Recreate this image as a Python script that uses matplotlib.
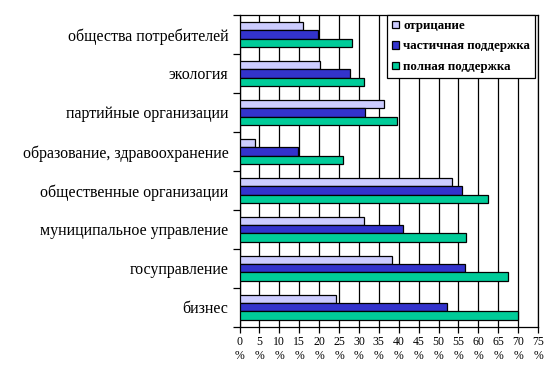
import numpy as np
import matplotlib
matplotlib.use("Agg")
import matplotlib.pyplot as plt

plt.rcParams['font.family'] = ['Liberation Serif', 'DejaVu Serif']

categories = ["общества потребителей", "экология", "партийные организации",
              "образование, здравоохранение", "общественные организации",
              "муниципальное управление", "госуправление", "бизнес"]
otricanie = [16.0, 20.3, 36.3, 4.0, 53.3, 31.3, 38.3, 24.3]
chastichnaya = [19.8, 27.8, 31.5, 14.8, 55.8, 41.1, 56.6, 52.1]
polnaya = [28.3, 31.3, 39.5, 25.9, 62.4, 56.8, 67.4, 69.9]
series_names = ["отрицание", "частичная поддержка", "полная поддержка"]
colors = ["#CCCCFF", "#3333CC", "#00CC99"]
xticks = list(range(0, 80, 5))

fig = plt.figure(figsize=(5.57, 3.73), dpi=100)
ax = fig.add_axes([0.43, 0.124, 0.536, 0.836])

n = len(categories)
y = np.arange(n)[::-1]
h = 0.215
for i, (vals, name, c) in enumerate(zip([otricanie, chastichnaya, polnaya], series_names, colors)):
    ax.barh(y + (1 - i) * h, vals, height=h, color=c, edgecolor="black",
            linewidth=0.9, label=name, zorder=3)

ax.set_xlim(0, 75)
ax.set_ylim(-0.5, n - 0.5)
ax.set_xticks(xticks)
ax.set_xticklabels([f"{t}\n%" for t in xticks], fontsize=8.5, linespacing=1.2)
ax.xaxis.grid(True, color="black", linewidth=0.9, zorder=0)
ax.tick_params(axis="x", direction="out", length=4, width=0.9, pad=3)

ax.set_yticks(y)
ax.set_yticklabels(categories, fontsize=11.5)
ax.tick_params(axis="y", which="major", length=0, pad=8)
ax.set_yticks(np.arange(-0.5, n, 1.0), minor=True)
ax.tick_params(axis="y", which="minor", direction="out", length=5, width=0.9)

for s in ax.spines.values():
    s.set_linewidth(0.9)
    s.set_color("black")

leg = ax.legend(loc="upper right", bbox_to_anchor=(0.99, 1.0),
                prop={"weight": "bold", "size": 9.3}, fancybox=False, framealpha=1,
                edgecolor="black", handlelength=0.5, handleheight=0.5,
                handletextpad=0.35, borderpad=0.4, labelspacing=0.65, borderaxespad=0)
leg.get_frame().set_linewidth(0.9)
leg.set_zorder(5)

fig.savefig("out.png", dpi=100)
